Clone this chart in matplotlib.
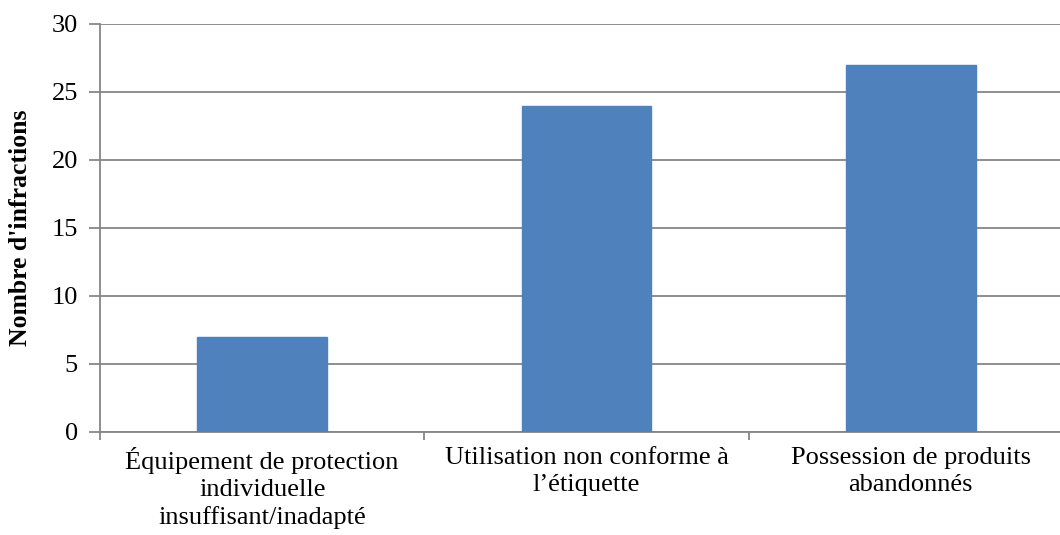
import matplotlib.pyplot as plt
import numpy as np

# Infractions relevées par type
categories = [
    "Équipement de protection\nindividuelle\ninsuffisant/inadapté",
    "Utilisation non conforme à\nl’étiquette",
    "Possession de produits\nabandonnés",
]
infractions = [7, 24, 27]
y_ticks = [0, 5, 10, 15, 20, 25, 30]

plt.rcParams['font.family'] = ['Liberation Serif', 'DejaVu Serif']

fig = plt.figure(figsize=(10.6, 5.35), dpi=100)
ax = fig.add_axes([100 / 1060, 103 / 535, 973 / 1060, 408 / 535])

x = np.arange(len(categories))
ax.bar(x, infractions, width=0.4, color='#4F81BD', edgecolor='#4F81BD', zorder=3)

ax.set_xlim(-0.5, len(categories) - 0.5)
ax.set_ylim(0, 30)
ax.set_yticks(y_ticks)
ax.yaxis.grid(True, color='#868686', linewidth=1.3, zorder=0)

# category labels between boundary ticks
ax.set_xticks(x)
ax.set_xticklabels(categories, fontsize=19, linespacing=1.28)
ax.tick_params(axis='x', length=0, pad=11)
ax.set_xticks(np.arange(len(categories) + 1) - 0.5, minor=True)
ax.tick_params(axis='x', which='minor', length=6, width=1.3, color='#868686')
ax.tick_params(axis='y', labelsize=19, length=8, width=1.3, color='#868686', pad=8)

for side in ['top', 'right']:
    ax.spines[side].set_visible(False)
for side in ['left', 'bottom']:
    ax.spines[side].set_color('#868686')
    ax.spines[side].set_linewidth(1.3)

ax.set_ylabel("Nombre d'infractions", fontsize=18.5, fontweight='bold', labelpad=14)

fig.savefig('out.png', dpi=100)
